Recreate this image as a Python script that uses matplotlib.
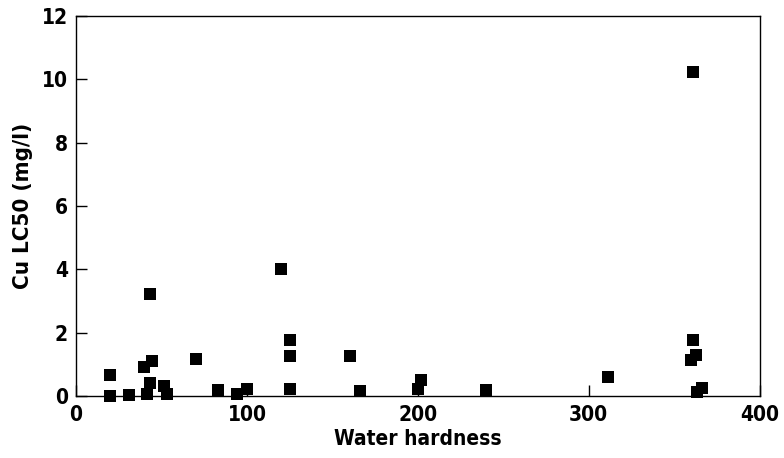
import matplotlib
matplotlib.use("Agg")
import matplotlib.pyplot as plt

hardness = [20, 20, 31, 39.5, 41.5, 43.5, 44.5, 43.5, 51.5, 53, 70, 83, 94, 100,
            120, 125, 125, 125, 160, 166, 200, 202, 240, 311,
            361, 361, 363, 360, 363.5, 366.5]
lc50 = [0.66, 0.02, 0.03, 0.91, 0.06, 3.22, 1.1, 0.41, 0.31, 0.08, 1.17, 0.19, 0.08, 0.23,
        4.03, 1.76, 1.28, 0.24, 1.26, 0.17, 0.22, 0.5, 0.19, 0.6,
        10.22, 1.77, 1.3, 1.14, 0.13, 0.25]
xticks = [0, 100, 200, 300, 400]
yticks = [0, 2, 4, 6, 8, 10, 12]

plt.rcParams['font.family'] = ['DejaVu Sans']
plt.rcParams['font.stretch'] = 'condensed'
plt.rcParams['font.weight'] = 'bold'

fig = plt.figure(figsize=(7.84, 4.58), dpi=100)
ax = fig.add_axes([0.097, 0.135, 0.872, 0.830])
ax.scatter(hardness, lc50, marker='s', s=70, color='black', linewidths=0, clip_on=False, zorder=3)
ax.set_xlim(0, 400)
ax.set_ylim(0, 12)
ax.set_xticks(xticks)
ax.set_yticks(yticks)
ax.tick_params(direction='in', length=8, width=1, labelsize=15, pad=6)
for lab in ax.get_xticklabels() + ax.get_yticklabels():
    lab.set_fontweight('bold')
    lab.set_fontstretch('condensed')
for sp in ax.spines.values():
    sp.set_linewidth(1)
ax.set_xlabel('Water hardness', fontsize=15, fontweight='bold', fontstretch='condensed', labelpad=3)
ax.set_ylabel('Cu LC50 (mg/l)', fontsize=16, fontweight='bold', fontstretch='condensed', labelpad=6)
fig.savefig('out.png', dpi=100)
